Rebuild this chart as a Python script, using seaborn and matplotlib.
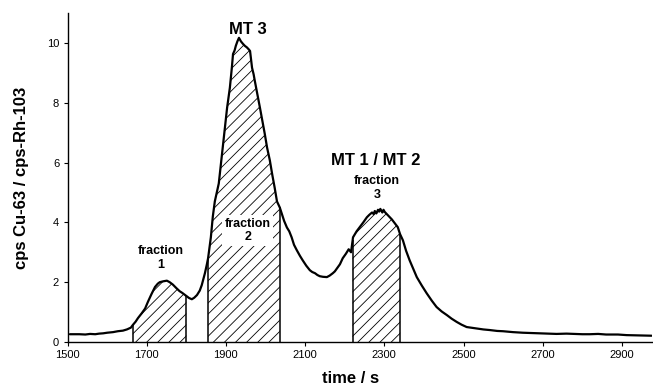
import numpy as np
import pandas as pd
import matplotlib
matplotlib.use("Agg")
import matplotlib.pyplot as plt
import seaborn as sns

# ---- data ----
time_s = [1506, 1530, 1545, 1557, 1570, 1580, 1590, 1600, 1615, 1627, 1640, 1650, 1660, 1665, 1672,
          1678, 1688, 1696, 1703, 1712, 1721, 1728, 1733, 1742, 1751, 1758, 1766,
          1775, 1783, 1790, 1797, 1807, 1814, 1820, 1827, 1834, 1839, 1847, 1852,
          1855, 1862, 1867, 1872, 1877, 1882, 1887, 1892, 1898, 1903, 1907, 1910,
          1915, 1918, 1922, 1925, 1929, 1933, 1938, 1943, 1948, 1953, 1958, 1961,
          1964, 1966, 1970, 1973, 1980, 1986, 1992, 1998, 2004, 2011, 2017, 2023,
          2029, 2036, 2041, 2047, 2054, 2060, 2066, 2072, 2079, 2087, 2094, 2103,
          2112, 2118, 2125, 2131, 2137, 2145, 2155, 2162, 2170, 2175, 2180, 2188,
          2195, 2203, 2210, 2216, 2221, 2230, 2238, 2247, 2256, 2262, 2269, 2273,
          2276, 2280, 2284, 2287, 2290, 2295, 2298, 2301, 2306, 2312, 2319, 2326,
          2334, 2340, 2347, 2355, 2364, 2373, 2382, 2395, 2407, 2420, 2432, 2445,
          2458, 2470, 2483, 2495, 2508, 2530, 2550, 2566, 2585, 2600, 2625, 2650,
          2670, 2690, 2710, 2735, 2760, 2780, 2800, 2819, 2840, 2860, 2890, 2912,
          2950, 2975]
ratio = [0.26, 0.26, 0.25, 0.27, 0.26, 0.28, 0.29, 0.31, 0.33, 0.36, 0.38, 0.42, 0.48, 0.57, 0.68,
         0.80, 0.97, 1.12, 1.34, 1.60, 1.84, 1.95, 2.00, 2.03, 2.05, 2.00, 1.92,
         1.80, 1.70, 1.64, 1.57, 1.47, 1.43, 1.48, 1.57, 1.72, 1.90, 2.30, 2.60,
         2.80, 3.50, 4.20, 4.70, 5.00, 5.30, 5.90, 6.50, 7.20, 7.83, 8.20, 8.50,
         9.17, 9.63, 9.75, 9.90, 10.05, 10.17, 10.05, 9.97, 9.90, 9.85, 9.78, 9.73,
         9.40, 9.17, 8.95, 8.73, 8.25, 7.83, 7.40, 6.97, 6.50, 6.07, 5.60, 5.17,
         4.70, 4.50, 4.30, 4.05, 3.83, 3.70, 3.50, 3.25, 3.07, 2.88, 2.73, 2.55,
         2.40, 2.34, 2.30, 2.24, 2.20, 2.18, 2.17, 2.22, 2.30, 2.36, 2.45, 2.60,
         2.80, 2.95, 3.10, 3.00, 3.50, 3.70, 3.84, 4.00, 4.17, 4.25, 4.33, 4.28,
         4.38, 4.30, 4.42, 4.36, 4.45, 4.33, 4.42, 4.35, 4.28, 4.20, 4.10, 3.98,
         3.84, 3.60, 3.40, 3.05, 2.73, 2.45, 2.17, 1.88, 1.63, 1.38, 1.17, 1.02,
         0.90, 0.78, 0.67, 0.58, 0.50, 0.46, 0.42, 0.40, 0.37, 0.36, 0.33, 0.31,
         0.30, 0.29, 0.28, 0.27, 0.28, 0.27, 0.26, 0.26, 0.27, 0.25, 0.25, 0.23,
         0.22, 0.21]

fraction_names = ["fraction\n1", "fraction\n2", "fraction\n3"]
fraction_start = [1665, 1855, 2220]
fraction_end = [1800, 2036, 2340]

peak_labels = ["MT 3", "MT 1 / MT 2"]
x_ticks = [1500, 1700, 1900, 2100, 2300, 2500, 2700, 2900]
y_ticks = [0, 2, 4, 6, 8, 10]

df = pd.DataFrame({"time": time_s, "ratio": ratio})

# ---- styling ----
sns.set_theme(style="ticks")
plt.rcParams["font.family"] = ["Liberation Sans", "DejaVu Sans"]
plt.rcParams["hatch.linewidth"] = 0.6
plt.rcParams["text.color"] = "black"
plt.rcParams["axes.labelcolor"] = "black"
plt.rcParams["xtick.color"] = "black"
plt.rcParams["ytick.color"] = "black"

fig = plt.figure(figsize=(6.53, 3.85), dpi=100)
ax = fig.add_axes([67.5 / 653, 1 - 342 / 385, (652 - 67.5) / 653, (342 - 13) / 385])

t_arr = np.array(time_s, dtype=float)
r_arr = np.array(ratio, dtype=float)

# hatched fractions
for a, b in zip(fraction_start, fraction_end):
    inside = (t_arr > a) & (t_arr < b)
    xs = np.concatenate([[a], t_arr[inside], [b]])
    ys = np.concatenate([[np.interp(a, t_arr, r_arr)], r_arr[inside],
                         [np.interp(b, t_arr, r_arr)]])
    ax.fill_between(xs, 0, ys, facecolor="white", edgecolor="black",
                    hatch="///", linewidth=0)
    ax.vlines([a, b], 0, [ys[0], ys[-1]], color="black", linewidth=1.1)

sns.lineplot(data=df, x="time", y="ratio", ax=ax, color="black",
             linewidth=1.6, legend=False)

ax.set_xlim(1500, 2976)
ax.set_ylim(0, 11)
ax.set_xticks(x_ticks)
ax.set_yticks(y_ticks)
ax.tick_params(axis="both", direction="out", length=3, width=0.8,
               labelsize=8, pad=3, colors="black")
for s in ["top", "right"]:
    ax.spines[s].set_visible(False)
for s in ["left", "bottom"]:
    ax.spines[s].set_linewidth(1.0)
    ax.spines[s].set_color("black")

ax.set_xlabel("time / s", fontsize=12, fontweight="bold", color="black")
ax.set_ylabel("cps Cu-63 / cps-Rh-103", fontsize=12, fontweight="bold",
              color="black")
ax.xaxis.set_label_coords((351 - 67.5) / 584.5, -29 / 329)
ax.yaxis.set_label_coords(-38 / 584.5, 0.5)

# annotations
ax.text(1955, 10.45, peak_labels[0], fontsize=12, fontweight="bold",
        ha="center", va="center", color="black")
ax.text(2279, 6.06, peak_labels[1], fontsize=12, fontweight="bold",
        ha="center", va="center", color="black")

label_pos = [(1735, 2.8), (1955, 3.73), (2282, 5.15)]
for name, (lx, ly) in zip(fraction_names, label_pos):
    kw = {}
    if name.endswith("2"):
        kw["bbox"] = dict(facecolor="white", edgecolor="none", pad=2)
    ax.text(lx, ly, name, fontsize=9, fontweight="bold", ha="center",
            va="center", linespacing=1.2, color="black", **kw)

fig.savefig("out.png", dpi=100)
